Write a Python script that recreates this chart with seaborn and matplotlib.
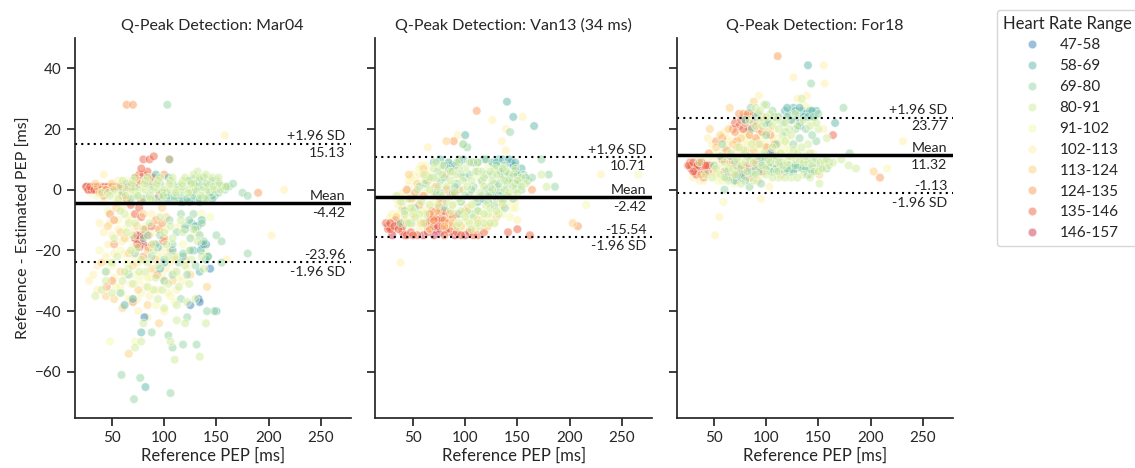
import matplotlib
matplotlib.use("Agg")
import matplotlib.pyplot as plt
import pandas as pd
import seaborn as sns

hr_ranges = ["47-58", "58-69", "69-80", "80-91", "91-102", "102-113", "113-124", "124-135", "135-146", "146-157"]

# (Reference PEP, difference), one list per heart rate bin

## Mar04
mar_146 = [(26,1),(28,0),(32,0),(36,1),(33,1),(76,-17),(78,-16),(80,-18),(77,-15),(72,-16)]
mar_135 = [(25,1),(27,0),(30,0),(35,0),(38,0),(40,1),(43,1),(46,1),(48,0),(68,-5),(72,-8),(76,-6),(78,-9),(74,-15),(76,-19),(82,-13),(88,-12),(99,-17),(72,4),(76,5),(80,5),(84,6),(88,4),(78,7),(80,10),(86,10),(90,11),(105,10),(66,1),(70,1),(74,2),(95,-2),(78,-4),(85,-19),
           (40,0),(44,0),(50,1),(54,1),(60,1),(74,-18),(80,-15),(29,1),(33,0)]
mar_124 = [(64,28),(70,28),(48,-8),(52,-10),(60,-2),(64,-3),(68,1),(72,2),(76,3),(82,3),(86,2),(90,4),(94,3),(92,-10),(95,-13),(98,-11),(100,-16),(90,-18),(85,-15),(70,-37),(52,-18),(45,-32),(50,-30),(42,-2),(36,1),(56,1),(93,-28),(100,5),(190,-1),(80,-22)]
mar_113 = [(34,2),(38,-1),(44,0),(50,2),(54,-6),(58,-14),(62,-16),(66,-21),(70,-25),(74,-12),(80,-8),(84,-20),(88,-26),(92,-23),(98,-6),(102,-9),(106,-20),(110,-23),(46,-12),(40,-24),(44,-35),(52,-36),(60,-39),(66,-54),(95,-44),(108,-30),(120,-23),(125,-28),(141,-32),(58,-27),(75,-33),(84,-38),(115,-4),(100,-30)]
mar_102 = [(32,-28),(28,-30),(36,-25),(42,-14),(48,-11),(54,-4),(60,-6),(38,-11),(46,-18),(52,-21),(58,-32),(63,-28),(68,-31),(72,-22),(78,-28),(82,-32),(86,-35),(90,-27),(94,-33),(98,-21),(102,-26),(106,-35),(112,-33),(118,-30),(124,-20),(132,-14),(160,-23),(158,18),(203,-15),(215,0),(42,5),(56,3),(64,1),(72,-2),(82,-2),(92,-1),(102,1),(112,0),(122,1),(132,2),(114,-12),(100,-40),(75,-40),(110,-27),
           (50,-25),(56,-13),(62,-21),(66,-10),(70,-13),(76,-24),(84,-29),(66,-36),(74,-36),(50,-15),(44,-22),(36,-33),(60,-17),(88,-8)]
mar_91 = [(30,-1),(36,-2),(42,-4),(46,-7),(50,-1),(56,-2),(62,-4),(56,-10),(62,-13),(66,-16),(70,-19),(74,-24),(78,-17),(82,-23),(86,-29),(90,-14),(94,-22),(98,-28),(102,-13),(106,-24),(110,-37),(114,-29),(118,-18),(122,-26),(45,-27),(52,-29),(60,-34),(68,-36),(76,-30),(84,-42),(92,-38),(128,-15),(136,-8),(140,-20),(144,-9),(70,-2),(80,1),(90,2),(100,-1),(110,2),(120,3),(130,3),(140,4),(48,-50),(72,-50),
          (38,-20),(46,-24),(54,-32),(58,-20),(64,-24),(68,-9),(72,-28),(78,-34),(82,-12),(88,-33),(94,-12),(100,-19),(104,-34),(112,-22),(40,0),(48,2),(54,-1),(58,2),(64,3),(68,-1),(74,1),(84,-3),(88,2)]
mar_80 = [(40,-1),(46,-1),(52,0),(58,1),(64,0),(70,0),(76,0),(82,0),(88,0),(94,0),(100,0),(106,0),(112,0),(118,0),(124,0),(130,0),(136,0),(142,0),(148,0),(154,0),(62,-8),(66,-11),(70,-15),(74,-19),(78,-23),(82,-27),(86,-11),(90,-20),(94,-25),(98,-33),(102,-18),(106,-12),(110,-22),(114,-32),(118,-14),(122,-37),(126,-23),(132,-17),(138,-26),(55,-22),(60,-30),(50,-34),(66,-26),(80,-44),(90,-33),(100,-39),(106,-50),(112,-43),(120,-44),(140,-44),(134,-55),(110,-56),(72,-52),(78,-50),(50,-24),(44,-30),(40,-33),(34,-35),(140,-3),(128,5),(132,6),(70,3),(82,3),(94,3),(106,3),(118,3),
          (48,-2),(56,-3),(63,-2),(69,2),(75,-2),(81,2),(87,-3),(93,2),(99,-2),(105,2),(111,-1),(117,2),(123,-1),(129,2),(135,-2),(141,2),(147,1),(153,2),(159,1),(60,3),(72,4),(84,4),(96,4),(108,4),(120,4),(126,2),(134,4),(140,5),(146,4),(152,4),
          (58,-7),(64,-14),(68,-20),(72,-11),(76,-27),(80,-13),(84,-24),(88,-18),(92,-29),(96,-9),(100,-14),(104,-22),(108,-16),(112,-27),(116,-10),(120,-25),(124,-31),(128,-13),(136,-22),(52,-16),(62,-27),(70,-31),(84,-32),(94,-36),(104,-31),(112,-38),(130,-36)]
mar_69 = [(60,-1),(68,-3),(74,-2),(80,-3),(86,-2),(92,-3),(98,-3),(104,-2),(110,-3),(116,-2),(122,-3),(128,-2),(134,-3),(140,-2),(146,-2),(152,-1),(158,0),(162,1),(166,2),(175,-1),(180,-2),(64,2),(72,1),(84,2),(96,2),(108,2),(118,1),(128,2),(136,3),(144,2),(150,3),(105,-10),(112,-14),(118,-21),(125,-16),(130,-25),(136,-11),(142,-22),(96,-15),(88,-22),(80,-16),(72,-21),(66,-28),(58,-34),(44,-27),(100,-30),(108,-28),(116,-36),(122,-42),(118,-51),(131,-51),(104,-48),(108,-52),(88,-47),(77,-62),(71,-69),(59,-61),(106,-67),(180,-21),(150,-15),(103,28),(105,10),(128,-8),(148,-40),(141,-40),(125,-20),(155,-24),(160,1),(155,-17),
          (90,1),(102,-1),(114,1),(126,-1),(132,1),(138,1),(144,-1),(150,0),(156,1),(130,4),(138,4),(124,3),(146,3),(152,2),(116,-8),(120,-12),(130,-13),(124,-10),(134,-15),(108,-18),(114,-24),(122,-28),(138,-17),(100,-23),(92,-18),(84,-15)]
mar_58 = [(98,-1),(104,-3),(110,-2),(116,-4),(122,-3),(130,0),(136,-3),(142,1),(148,-2),(126,-11),(132,-12),(120,-13),(136,-10),(128,-20),(135,-20),(142,-22),(118,-22),(108,-20),(100,-24),(94,-19),(134,-27),(150,-40),(140,-23),(78,-47),(82,-65),(62,-38),(70,-36),(118,-4),(160,1),(104,4),(92,5),(125,3),(96,-26),
          (128,-3),(134,-4),(140,-3),(146,-3),(124,-4),(130,-12),(138,-18),(132,2)]
mar_47 = [(125,-38),(133,-36),(144,-26),(81,-42),(140,-18),(136,-18),(130,2),(134,-37)]

## Van13
van_146 = [(26,-12),(30,-13),(34,-11),(38,-12),(30,-15),(68,-13),(72,-13),(76,-14),(70,-15),(90,-15),(100,-15),(42,-15),(60,-15)]
van_135 = [(26,-13),(33,-10),(40,-14),(44,-15),(48,-14),(54,-15),(64,-14),(68,-10),(72,-9),(76,-10),(78,-8),(80,-7),(82,-11),(86,-14),(92,-14),(96,-15),(104,-14),(112,-15),(118,-14),(141,-14),(150,-13),(162,-15),(75,-6),(84,-13),
           (66,-10),(70,-9),(74,-10),(78,-10),(64,-12),(82,-13),(72,-7),(28,-13),(36,-11),(40,-12),(24,-11),(28,-11),(32,-12),(36,-13),(70,-12),(74,-12),(78,-12),(80,-15),(108,-15),(50,-15)]
van_124 = [(111,26),(164,0),(208,-12),(48,-3),(52,-1),(56,-5),(60,-2),(64,3),(68,-7),(72,1),(78,-4),(82,0),(86,-2),(90,-1),(94,0),(89,16),(76,-3),(70,-10),(44,0),(80,-10),(85,-8),(92,-8),(100,-7),(82,5),
           (84,-11),(88,-12),(66,-8),(62,-11),(88,-9)]
van_113 = [(82,16),(40,-6),(42,-10),(50,-8),(54,2),(58,-11),(62,5),(66,-13),(70,-1),(74,-7),(80,-12),(88,-11),(96,-12),(102,-6),(112,-10),(122,-12),(130,-9),(34,-9),(46,5),(60,7),(203,-11),(110,-13),(136,-5)]
van_102 = [(38,-24),(64,14),(93,18),(126,23),(155,24),(139,20),(135,16),(139,13),(230,5),(30,-8),(36,-5),(42,-2),(46,1),(50,5),(54,-9),(58,8),(64,-6),(70,-4),(76,7),(82,-8),(88,-5),(94,4),(100,-11),(106,-2),(114,-8),(120,-13),(128,-11),(134,-6),(142,-2),(116,2),(148,-4),(150,-10),(145,-6),(110,8),(56,-13),
           (34,-3),(40,-1),(46,-6),(52,-11),(58,-7),(62,-1),(52,3),(46,3),(56,5),(98,-13),(106,-11),(116,-11),(124,-9)]
van_91 = [(28,-9),(32,-10),(38,-7),(44,-9),(48,-12),(52,-4),(56,-10),(60,2),(66,6),(70,-8),(74,4),(78,-11),(84,2),(90,-9),(96,-4),(98,15),(102,-10),(108,-5),(112,4),(118,-9),(124,-4),(130,1),(136,-8),(142,-4),(148,-6),(143,-9),(216,-5),(266,5),(122,8),(84,9),
          (36,-8),(42,-12),(46,-1),(50,-9),(54,-2),(58,-12),(60,-7),(64,-9),(68,2),(72,-5),(48,4),(56,7),(62,8),(36,-2),(44,-7),(50,-3),(58,-3),(64,0),(92,-12),(98,-8),(104,-13),(110,-9),(116,-7),(122,-11),(128,-7)]
van_80 = [(34,-2),(40,-4),(46,-3),(50,-7),(54,0),(58,-4),(62,-8),(66,0),(70,4),(74,-5),(78,-2),(82,1),(86,-7),(90,5),(94,-3),(98,0),(102,-7),(106,3),(110,-3),(114,-12),(118,1),(122,-8),(126,3),(130,-3),(134,4),(138,0),(142,3),(146,1),(150,-1),(154,4),(158,2),(128,-11),(120,-5),(108,-9),(100,7),(92,-12),(78,8),(86,6),(104,9),(116,6),(128,7),(140,6),(173,5),(178,1),(60,-11),(132,-8),
          (44,-11),(48,-6),(56,-8),(62,3),(66,-5),(70,7),(74,1),(78,5),(82,-4),(86,3),(90,-1),(94,7),(98,3),(102,1),(106,-5),(110,6),(114,-1),(118,4),(122,-2),(126,0),(130,5),(134,-3),(138,3),(142,-1),(146,5),(150,3),(154,1),(96,-7),(104,-11),(112,-7),(118,-11),(124,-6),(130,-7),(136,-4),(88,-5),(72,9),(66,4),(60,5),(92,9),(112,9),(124,6),(136,7),(148,7),
          (94,-11),(100,-9),(106,-13),(112,-11),(118,-8),(124,-11),(38,-4),(42,-8),(52,-9),(46,-11)]
van_69 = [(42,-7),(48,-11),(56,1),(62,2),(68,4),(72,-1),(76,3),(80,-6),(84,7),(88,-1),(92,2),(96,-4),(100,4),(104,-2),(108,1),(112,-3),(116,3),(120,0),(124,-2),(128,2),(132,0),(136,-1),(140,1),(144,3),(148,0),(152,2),(156,5),(160,3),(164,4),(180,5),(186,1),(173,10),(143,19),(94,10),(102,14),(98,15),(108,9),(120,10),(128,-5),(112,-7),(38,-11),(52,-6),(130,8),(138,8),(146,-3),(134,-2),
          (74,6),(80,4),(88,6),(96,5),(104,5),(112,6),(120,5),(126,5),(134,6),(142,5),(150,5),(158,4),(116,-2),(124,1),(132,2),(140,-2),(148,2),(90,1),(106,0),(100,-2),(94,-8),(106,-8),(122,-4),(138,-6),(154,0),(76,-1)]
van_58 = [(70,9),(76,10),(84,9),(90,8),(98,10),(106,9),(112,-4),(118,-3),(124,-1),(128,-2),(132,-2),(138,6),(142,4),(146,8),(150,5),(154,7),(140,29),(146,24),(166,21),(100,18),(126,9),(132,10),(118,10),(136,-3),
          (80,8),(94,9),(112,9),(130,9),(136,10),(142,10),(148,9),(134,6),(140,3),(152,3),(122,-2),(116,-3)]
van_47 = [(88,8),(136,5),(144,9),(130,-2),(148,6)]

## For18
for_146 = [(28,7),(32,6),(36,7),(40,7),(34,7),(44,6),(80,7),(84,20)]
for_135 = [(25,8),(27,9),(33,5),(37,5),(41,6),(46,8),(70,22),(74,21),(78,20),(80,24),(84,25),(88,22),(72,8),(76,5),(82,8),(90,9),(164,18),(58,10),(96,6),
           (28,8),(32,8),(36,9),(40,8),(44,8),(68,20),(76,23),(26,8),(30,9),(34,8),(38,9),(42,8),(30,6)]
for_124 = [(111,44),(209,4),(40,4),(45,12),(52,16),(58,17),(62,13),(66,9),(70,19),(74,25),(78,25),(82,25),(88,25),(92,20),(96,24),(100,14),(104,18),(108,15),(76,7),(60,6),(68,5),(84,4),(112,8),(88,7),
           (84,18),(90,17),(72,16),(80,22),(96,19)]
for_113 = [(88,29),(65,27),(203,6),(46,20),(52,14),(56,18),(60,11),(64,20),(68,15),(72,14),(76,17),(80,13),(84,18),(88,13),(92,15),(98,23),(102,20),(106,12),(110,24),(114,5),(118,7),(50,6),(66,4),(151,5),(38,5),(92,3)]
for_102 = [(126,37),(155,41),(156,35),(93,31),(139,31),(231,16),(95,-3),(51,-15),(55,-9),(44,17),(48,15),(54,10),(60,19),(64,9),(70,10),(74,12),(78,15),(82,20),(86,16),(90,11),(94,18),(98,9),(102,12),(108,20),(112,10),(116,14),(120,17),(124,23),(130,30),(136,28),(103,1),(30,4),(36,3),(155,20),(145,12),(72,3),
           (50,12),(56,15),(62,17),(68,11),(74,18),(80,19),(86,13),(92,21),(98,16),(104,22),(110,17),(66,16),(58,13),(46,6),(40,3),(54,4)]
for_91 = [(59,-4),(34,10),(40,11),(46,9),(52,12),(58,8),(62,15),(68,13),(72,16),(76,10),(80,17),(84,12),(88,16),(92,8),(96,14),(100,10),(104,15),(108,7),(112,13),(116,11),(120,15),(124,9),(128,13),(132,8),(136,12),(140,27),(144,22),(216,7),(54,3),(70,2),
          (48,11),(54,8),(60,13),(64,6),(70,6),(74,9),(78,4),(82,15),(86,10),(90,14),(94,12),(98,18),(102,14),(106,17),(110,13),(114,16),(118,12),(122,13),(52,5),(58,3),(64,11),(96,5),(88,4)]
for_80 = [(36,9),(42,5),(48,4),(52,7),(56,5),(60,9),(64,7),(68,7),(72,10),(76,8),(80,9),(84,10),(88,9),(92,11),(96,8),(100,7),(104,9),(108,10),(112,9),(116,8),(120,9),(124,11),(128,10),(132,10),(136,9),(140,9),(144,8),(148,10),(152,9),(156,9),(160,8),(164,9),(78,13),(86,15),(94,23),(90,27),(98,28),(104,25),(110,23),(116,18),(122,20),(128,25),(134,30),(140,15),(172,10),(179,8),(186,7),(151,2),(150,20),(158,17),(100,5),(112,4),(124,4),(136,5),(64,3),(76,2),(88,3),
          (66,12),(74,14),(82,6),(90,5),(94,15),(98,12),(102,10),(106,14),(110,6),(114,12),(118,16),(122,11),(126,13),(130,12),(134,14),(138,11),(142,12),(146,6),(150,6),(154,7),(158,10),(94,26),(100,24),(106,21),(112,20),(118,22),(124,18),(130,21),(136,23),(142,21),(148,22),(84,23),(90,21),(96,21),(60,4),(70,5),(106,4),(118,4),(130,4),(142,4)]
for_69 = [(50,8),(56,11),(62,6),(66,11),(70,9),(74,7),(78,5),(82,11),(86,6),(90,7),(94,6),(98,11),(102,8),(106,6),(110,11),(114,9),(118,6),(122,8),(126,6),(130,8),(134,7),(138,7),(142,10),(146,9),(150,8),(155,10),(160,9),(143,35),(174,27),(180,12),(85,27),(92,25),(100,28),(106,26),(112,24),(118,19),(126,15),(132,17),(145,24),(150,25),(60,0),(148,16),(86,20),(116,22),(58,15),(84,1),(95,2),
          (72,5),(80,3),(88,5),(96,10),(104,6),(112,6),(120,7),(128,8),(136,10),(144,6),(152,7),(158,7),(102,22),(108,24),(120,24),(132,22),(138,20),(144,18),(128,20),(110,15),(100,18)]
for_58 = [(70,3),(76,4),(84,6),(90,24),(94,10),(104,9),(108,7),(114,8),(118,26),(122,25),(126,27),(130,24),(134,26),(138,25),(142,26),(146,24),(148,26),(136,7),(140,5),(145,6),(128,7),(140,41),(166,22),(80,23),(100,22),(96,8),
          (120,27),(124,23),(128,26),(132,27),(136,24),(140,24),(144,26),(134,8),(122,6),(62,4)]
for_47 = [(132,21),(125,7),(100,8),(143,7),(104,12)]

# summary lines
mar_stats = [15.13, -4.42, -23.96]
van_stats = [10.71, -2.42, -15.54]
for_stats = [23.77, 11.32, -1.13]

titles = ["Q-Peak Detection: Mar04", "Q-Peak Detection: Van13 (34 ms)", "Q-Peak Detection: For18"]
x_ticks = [50, 100, 150, 200, 250]
y_ticks = [-60, -40, -20, 0, 20, 40]

# draw order: yellows underneath, then warm, greens on top
bin_order = ["102-113", "91-102", "146-157", "135-146", "124-135", "113-124", "47-58", "58-69", "69-80", "80-91"]


def make_df(bins):
    rows = []
    for label in bin_order:
        for pep, diff in bins[label]:
            rows.append((pep, diff, label))
    return pd.DataFrame(rows, columns=["pep", "diff", "hr"])


df_mar = make_df(dict(zip(hr_ranges, [mar_47, mar_58, mar_69, mar_80, mar_91, mar_102, mar_113, mar_124, mar_135, mar_146])))
df_van = make_df(dict(zip(hr_ranges, [van_47, van_58, van_69, van_80, van_91, van_102, van_113, van_124, van_135, van_146])))
df_for = make_df(dict(zip(hr_ranges, [for_47, for_58, for_69, for_80, for_91, for_102, for_113, for_124, for_135, for_146])))

sns.set_theme(style="ticks", context="notebook")
plt.rcParams["font.family"] = ["Lato", "DejaVu Sans"]
plt.rcParams["text.color"] = "#262626"

fig, axes = plt.subplots(1, 3, figsize=(11.35, 4.68), dpi=100, sharey=True)
fig.subplots_adjust(left=74.5 / 1135, right=953 / 1135, top=1 - 38 / 468, bottom=1 - 418 / 468, wspace=24.5 / 276.5)

palette = sns.color_palette("Spectral_r", 10)
fs = 10.2

for ax, df, stats, title in zip(axes, [df_mar, df_van, df_for], [mar_stats, van_stats, for_stats], titles):
    sns.scatterplot(data=df, x="pep", y="diff", hue="hr", hue_order=hr_ranges, palette=palette,
                    alpha=0.5, s=38, edgecolor="white", linewidth=0.7, ax=ax, legend=ax is axes[2])
    ax.axhline(stats[0], color="black", linestyle=(0, (1, 2)), linewidth=1.5)
    ax.axhline(stats[1], color="black", linewidth=2.5)
    ax.axhline(stats[2], color="black", linestyle=(0, (1, 2)), linewidth=1.5)
    trans = ax.get_yaxis_transform()
    ax.annotate("+1.96 SD", (0.98, stats[0]), xycoords=trans, xytext=(0, 1), textcoords="offset points", ha="right", va="bottom", fontsize=fs)
    ax.annotate("%.2f" % stats[0], (0.98, stats[0]), xycoords=trans, xytext=(0, -2), textcoords="offset points", ha="right", va="top", fontsize=fs)
    ax.annotate("Mean", (0.98, stats[1]), xycoords=trans, xytext=(0, 1), textcoords="offset points", ha="right", va="bottom", fontsize=fs)
    ax.annotate("%.2f" % stats[1], (0.98, stats[1]), xycoords=trans, xytext=(0, -2.5), textcoords="offset points", ha="right", va="top", fontsize=fs)
    ax.annotate("%.2f" % stats[2], (0.98, stats[2]), xycoords=trans, xytext=(0, 1), textcoords="offset points", ha="right", va="bottom", fontsize=fs)
    ax.annotate("-1.96 SD", (0.98, stats[2]), xycoords=trans, xytext=(0, -2.5), textcoords="offset points", ha="right", va="top", fontsize=fs)
    ax.set_xlim(14, 279)
    ax.set_ylim(-75.2, 50)
    ax.set_xticks(x_ticks)
    ax.set_yticks(y_ticks)
    ax.set_title(title, fontsize=11.5, pad=6)
    ax.set_xlabel("Reference PEP [ms]", fontsize=12, labelpad=1.5)
    ax.set_ylabel("")
    ax.tick_params(labelsize=11)

axes[0].set_ylabel("Reference - Estimated PEP [ms]", fontsize=11.5, labelpad=3)
sns.despine(fig=fig)
sns.move_legend(axes[2], "upper left", bbox_to_anchor=(1.159, 1.075), borderaxespad=0,
                title="Heart Rate Range", frameon=True, fontsize=11, title_fontsize=12, labelspacing=0.45)

fig.savefig("out.png", dpi=100)
